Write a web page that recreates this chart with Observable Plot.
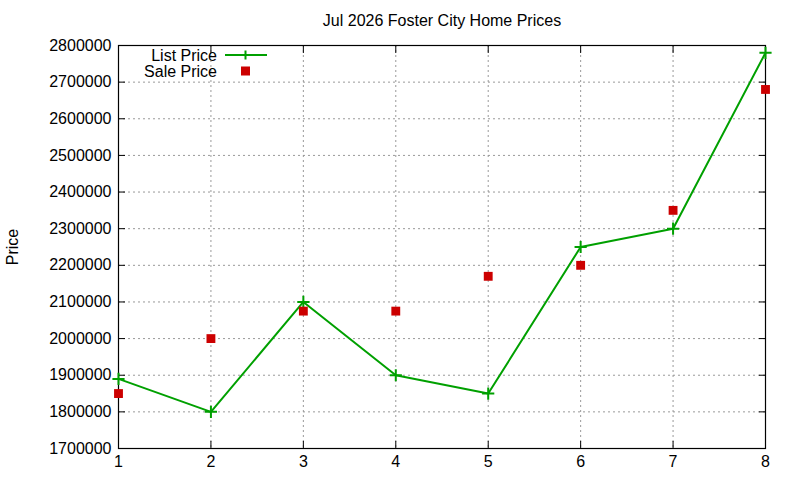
<!DOCTYPE html>
<html><head><meta charset="utf-8">
<script src="https://cdn.jsdelivr.net/npm/d3@7"></script>
<script src="https://cdn.jsdelivr.net/npm/@observablehq/plot@0.6"></script>
<style>
body{margin:0;background:#fff;}
#wrap{position:relative;width:800px;height:480px;font-family:"Liberation Sans",Arial,sans-serif;}
#legend{position:absolute;left:0;top:0;}
</style></head>
<body><div id="wrap"></div>
<script>
const months = [1,2,3,4,5,6,7,8];
const listPrice = [1890000,1800000,2100000,1900000,1850000,2250000,2300000,2780000];
const salePrice = [1850000,2000000,2075000,2075000,2170000,2200000,2350000,2680000];
const yTicks = [1700000,1800000,1900000,2000000,2100000,2200000,2300000,2400000,2500000,2600000,2700000,2800000];
const title = "Jul 2026 Foster City Home Prices";
const seriesNames = ["List Price","Sale Price"];
const green = "#00a000", red = "#cc0000";

const listData = months.map((m,i)=>({m, v:listPrice[i]}));
const saleData = months.map((m,i)=>({m, v:salePrice[i]}));

const chart = Plot.plot({
  width: 800, height: 480,
  marginLeft: 118, marginRight: 35, marginTop: 45, marginBottom: 32,
  style: {fontFamily: '"Liberation Sans", Arial, sans-serif', fontSize: "16px", color: "#000", background: "#fff"},
  x: {domain: [1,8], ticks: months},
  y: {domain: [1700000, 2800000], ticks: yTicks},
  marks: [
    Plot.gridX(months, {stroke: "#999", strokeOpacity: 1, strokeDasharray: "2,3"}),
    Plot.gridY(yTicks, {stroke: "#999", strokeOpacity: 1, strokeDasharray: "2,3"}),
    Plot.frame({stroke: "#000", strokeWidth: 1.2}),
    Plot.axisY(yTicks, {anchor: "left", tickSize: -7, tickPadding: 14, stroke: "#000", tickFormat: d => String(d),
      label: "Price", labelAnchor: "center", labelArrow: "none", labelOffset: 112, fontSize: 16}),
    Plot.axisY(yTicks, {anchor: "right", tickSize: -7, stroke: "#000", tickFormat: () => "", label: null}),
    Plot.axisX(months, {anchor: "bottom", tickSize: -7, tickPadding: 14, stroke: "#000", tickFormat: d => String(d), label: null, fontSize: 16}),
    Plot.axisX(months, {anchor: "top", tickSize: -7, stroke: "#000", tickFormat: () => "", label: null}),
    Plot.line(listData, {x: "m", y: "v", stroke: green, strokeWidth: 2}),
    Plot.dot(listData, {x: "m", y: "v", symbol: "plus", r: 4, stroke: green, strokeWidth: 2}),
    Plot.dot(saleData, {x: "m", y: "v", symbol: "square", r: 5, fill: red, stroke: "none"}),
    Plot.text([title], {frameAnchor: "top", dy: -25, fontSize: 16, fill: "#000", lineAnchor: "middle"})
  ]
});
const wrap = document.getElementById("wrap");
wrap.appendChild(chart);

// legend overlay
const ns = "http://www.w3.org/2000/svg";
const lg = document.createElementNS(ns, "svg");
lg.setAttribute("id","legend");
lg.setAttribute("width", 800); lg.setAttribute("height", 100);
lg.style.position = "absolute"; lg.style.left = "0"; lg.style.top = "0";
lg.style.fontFamily = '"Liberation Sans", Arial, sans-serif';
seriesNames.forEach((name, i) => {
  const y = 55 + i*16;
  const t = document.createElementNS(ns, "text");
  t.setAttribute("x", 217); t.setAttribute("y", y); t.setAttribute("text-anchor", "end");
  t.setAttribute("dominant-baseline", "central"); t.setAttribute("font-size", 16);
  t.textContent = name;
  lg.appendChild(t);
  if (i === 0) {
    const l = document.createElementNS(ns, "path");
    l.setAttribute("d", `M225,${y}H267M241,${y}h9M245.5,${y-4.5}v9`);
    l.setAttribute("stroke", green); l.setAttribute("stroke-width", 2); l.setAttribute("fill","none");
    lg.appendChild(l);
  } else {
    const r = document.createElementNS(ns, "rect");
    r.setAttribute("x", 241); r.setAttribute("y", y-4.5); r.setAttribute("width", 9); r.setAttribute("height", 9);
    r.setAttribute("fill", red);
    lg.appendChild(r);
  }
});
wrap.appendChild(lg);
</script></body></html>
